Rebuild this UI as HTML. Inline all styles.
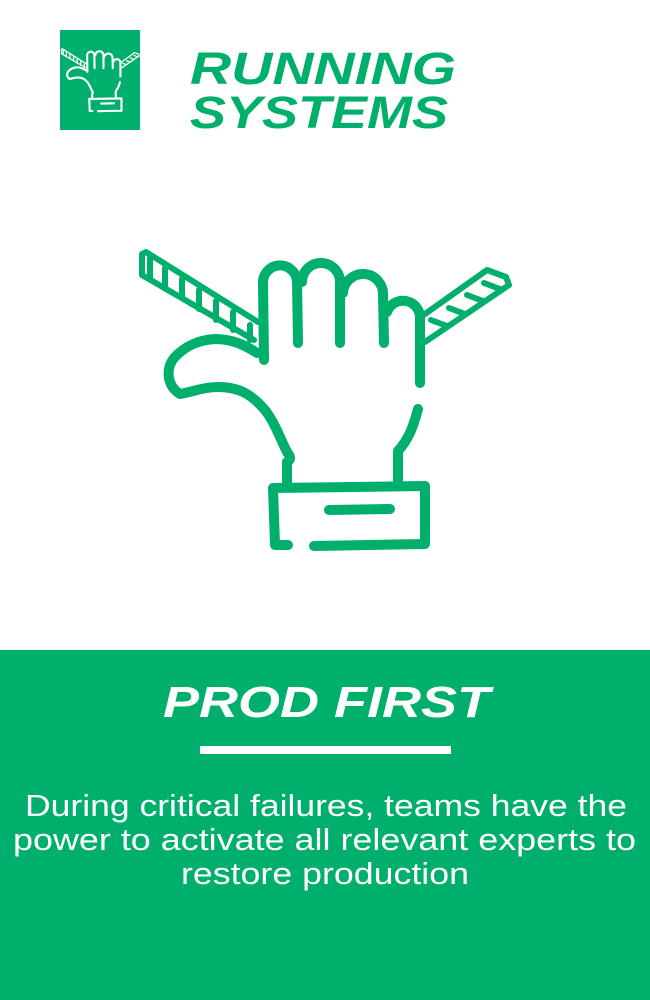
<!DOCTYPE html>
<html><head><meta charset="utf-8"><style>
html,body{margin:0;padding:0;background:#fff;}
svg{display:block;}
</style></head><body>
<svg width="650" height="1000" viewBox="0 0 650 1000" xmlns="http://www.w3.org/2000/svg">
<defs>
<g id="hand" fill="none" stroke-linecap="round" stroke-linejoin="round">
  <path d="M258 322 L146 252 L142 254 L142 275 L254 340" stroke-width="6"/>
  <path d="M150 258 L150 278 M165 268 L165 288 M182 279 L182 298 M199 290 L199 309 M216 301 L216 320 M233 312 L233 330 M250 325 L250 340" stroke-width="6"/>
  <path d="M425 314 L487 270 L506 277 L509 285 L425 342" stroke-width="6"/>
  <path d="M431 320 L447 326 M449 308 L465 314 M467 295 L483 301 M484 283 L500 289" stroke-width="6"/>
  <path d="M264 360 L263 284 A17 17 0 0 1 297 281 L298 343" stroke-width="10"/>
  <path d="M302 282 A19 19 0 0 1 340 282 L340 343" stroke-width="10"/>
  <path d="M343 293 A20 20 0 0 1 383 295 L384 343" stroke-width="10"/>
  <path d="M387 312 A17 17 0 0 1 420 318 L420 383" stroke-width="10"/>
  <path d="M257 353 C245 345 232 339 215 339 C198 340 185 346 174 358 C166 368 166 385 180 394 C195 391 205 387 218 387 C240 387 252 395 265 410 C275 423 280 438 287 452 C292 458 290 460 287 462 L287 483" stroke-width="10"/>
  <path d="M418 409 C413 428 408 440 398 451 L398 483" stroke-width="10"/>
  <path d="M288 545 L275 545 L273 488 L425 486 L425 544 L314 546" stroke-width="10"/>
  <path d="M329 510 L390 509" stroke-width="10"/>
</g>
</defs>
<rect x="0" y="0" width="650" height="1000" fill="#fff"/>
<rect x="60" y="30" width="80" height="100" fill="#00AF6B"/>
<g transform="translate(60,48) scale(0.212) translate(-135,-248)" stroke="#fff"><use href="#hand"/></g>
<text x="190" y="84" font-family="Liberation Sans, sans-serif" font-weight="bold" font-style="italic" font-size="45" fill="#00AF6B" textLength="266" lengthAdjust="spacingAndGlyphs">RUNNING</text>
<text x="190" y="128" font-family="Liberation Sans, sans-serif" font-weight="bold" font-style="italic" font-size="45" fill="#00AF6B" textLength="258" lengthAdjust="spacingAndGlyphs">SYSTEMS</text>
<g stroke="#00AF6B"><use href="#hand"/></g>
<rect x="0" y="650" width="650" height="350" fill="#00AF6B"/>
<text x="163" y="717" font-family="Liberation Sans, sans-serif" font-weight="bold" font-style="italic" font-size="44" fill="#fff" textLength="327" lengthAdjust="spacingAndGlyphs">PROD FIRST</text>
<rect x="200" y="746" width="251" height="8" fill="#fff"/>
<g font-family="Liberation Sans, sans-serif" font-size="31" fill="#fff">
<text x="25" y="816" textLength="602" lengthAdjust="spacingAndGlyphs">During critical failures, teams have the</text>
<text x="13" y="850" textLength="623" lengthAdjust="spacingAndGlyphs">power to activate all relevant experts to</text>
<text x="181" y="884" textLength="288" lengthAdjust="spacingAndGlyphs">restore production</text>
</g>
</svg>
</body></html>
